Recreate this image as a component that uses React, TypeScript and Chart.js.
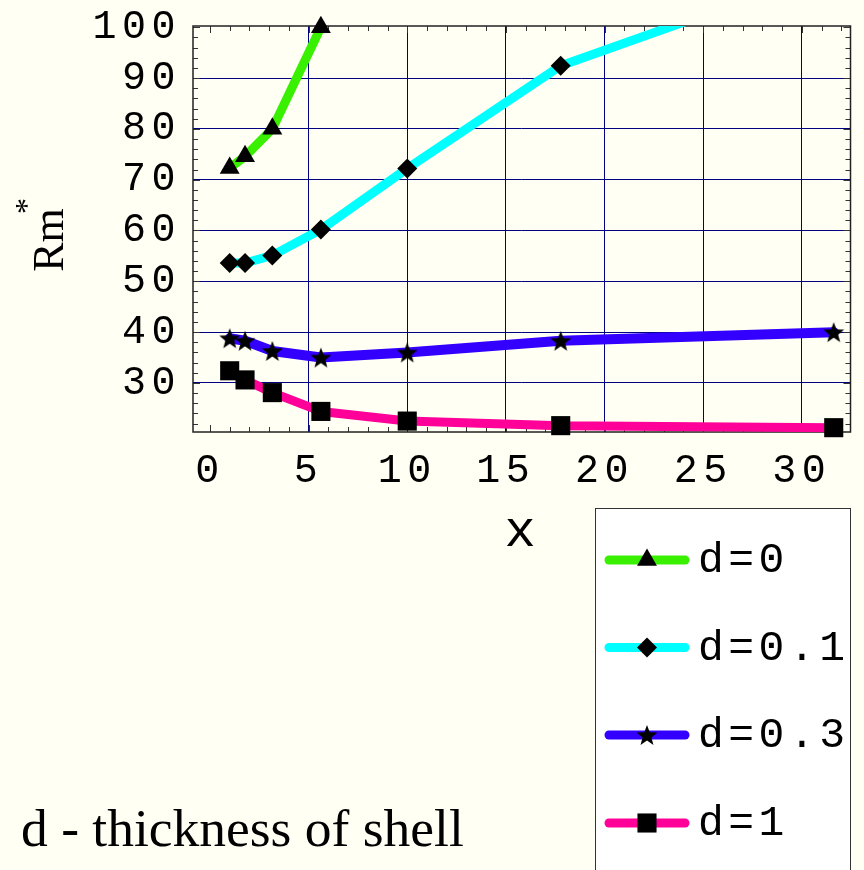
import React, { useEffect, useRef } from 'react';
import { Chart, registerables } from 'chart.js';
import { drawPoint } from 'chart.js/helpers';

Chart.register(...registerables);

// ---- data ----
const xValues = [1, 1.778, 3.162, 5.623, 10, 17.78, 31.62];
const rmD0 = [72.3, 74.6, 80.0, 100.0];
const rmD01 = [53.6, 53.6, 55.1, 60.2, 72.2, 92.4, 111.5];
const rmD03 = [38.8, 38.3, 36.3, 35.0, 36.0, 38.3, 40.0];
const rmD1 = [32.4, 30.6, 28.1, 24.4, 22.5, 21.6, 21.2];
const seriesLabels = ['d=0', 'd=0.1', 'd=0.3', 'd=1'];
const xTicks = [0, 5, 10, 15, 20, 25, 30];
const yTicks = [30, 40, 50, 60, 70, 80, 90, 100];

const CREAM = '#fffff4';
const NAVY = '#000080';
const GREEN = '#38f000';
const CYAN = '#00ffff';
const BLUE = '#3300ff';
const PINK = '#ff0099';

function makeStar(size: number): HTMLCanvasElement {
  const c = document.createElement('canvas');
  c.width = size;
  c.height = size;
  const g = c.getContext('2d')!;
  const cx = size / 2;
  const cy = size / 2 + 1;
  const R = size / 2;
  const r = R * 0.42;
  g.beginPath();
  for (let i = 0; i < 10; i++) {
    const a = -Math.PI / 2 + (i * Math.PI) / 5;
    const rr = i % 2 ? r : R;
    g.lineTo(cx + rr * Math.cos(a), cy + rr * Math.sin(a));
  }
  g.closePath();
  g.fillStyle = '#000';
  g.fill();
  return c;
}

const pts = (ys: number[]) => ys.map((y, i) => ({ x: xValues[i], y }));

const decorPlugin = {
  id: 'decor',
  beforeDraw(chart: any) {
    const { ctx, width, height } = chart;
    ctx.save();
    ctx.fillStyle = CREAM;
    ctx.fillRect(0, 0, width, height);
    ctx.restore();
    ctx.letterSpacing = '5.5px';
  },
  beforeDatasetsDraw(chart: any) {
    const { ctx, chartArea } = chart;
    ctx.letterSpacing = '0px';
    const xs = chart.scales.x;
    const ys = chart.scales.y;
    const { left, right, top, bottom } = chartArea;
    ctx.save();
    ctx.strokeStyle = '#333';
    ctx.lineWidth = 1;
    ctx.beginPath();
    for (let v = Math.ceil(xs.min); v <= Math.floor(xs.max); v++) {
      const p = Math.round(xs.getPixelForValue(v)) + 0.5;
      const len = v % 5 === 0 ? 7 : 5;
      ctx.moveTo(p, bottom);
      ctx.lineTo(p, bottom - len);
      ctx.moveTo(p, top);
      ctx.lineTo(p, top + len);
    }
    for (let v = Math.ceil(ys.min / 2) * 2; v <= ys.max; v += 2) {
      const p = Math.round(ys.getPixelForValue(v)) + 0.5;
      const len = v % 10 === 0 ? 7 : 5;
      ctx.moveTo(left, p);
      ctx.lineTo(left + len, p);
      ctx.moveTo(right, p);
      ctx.lineTo(right - len, p);
    }
    ctx.stroke();
    ctx.lineWidth = 1.5;
    ctx.strokeStyle = '#222';
    ctx.strokeRect(left, top, right - left, bottom - top);
    ctx.restore();
  },
  afterDraw(chart: any) {
    const { ctx } = chart;
    ctx.save();
    ctx.letterSpacing = '0px';
    ctx.fillStyle = '#000';

    // y axis title Rm*
    ctx.save();
    ctx.translate(63, 240);
    ctx.rotate(-Math.PI / 2);
    ctx.font = '44px "Liberation Serif"';
    ctx.textAlign = 'center';
    ctx.textBaseline = 'alphabetic';
    ctx.fillText('Rm', 0, 0);
    ctx.font = '32px "Liberation Serif"';
    ctx.fillText('*', 34, -26);
    ctx.restore();

    // x axis title
    ctx.font = '52px "Liberation Mono"';
    ctx.textAlign = 'center';
    ctx.textBaseline = 'alphabetic';
    ctx.fillText('x', 520, 546);

    // caption
    ctx.font = '53.5px "Liberation Serif"';
    ctx.textAlign = 'left';
    ctx.fillText('d - thickness of shell', 21, 846);

    // legend
    const bx = 595.5;
    const by = 508.5;
    ctx.fillStyle = '#ffffff';
    ctx.fillRect(bx, by, 255, 380);
    ctx.strokeStyle = '#333';
    ctx.lineWidth = 1;
    ctx.strokeRect(bx, by, 255, 380);
    const rowY = [560, 647.5, 735, 823];
    chart.data.datasets.forEach((ds: any, i: number) => {
      const cy = rowY[i];
      ctx.strokeStyle = ds.borderColor;
      ctx.lineWidth = 9;
      ctx.lineCap = 'round';
      ctx.beginPath();
      ctx.moveTo(609, cy);
      ctx.lineTo(685, cy);
      ctx.stroke();
      ctx.fillStyle = '#000';
      drawPoint(ctx, { pointStyle: ds.pointStyle, radius: ds.pointRadius, rotation: 0, borderWidth: 0 } as any, 647, cy);
      ctx.fillStyle = '#000';
      ctx.font = '43px "Liberation Mono"';
      ctx.letterSpacing = '4.5px';
      ctx.textAlign = 'left';
      ctx.textBaseline = 'alphabetic';
      ctx.fillText(ds.label, 698, cy + 12);
      ctx.letterSpacing = '0px';
    });
    ctx.restore();
  },
};

export default function App() {
  const ref = useRef<HTMLCanvasElement>(null);
  useEffect(() => {
    const star = makeStar(22);
    const tickFont = { family: 'Liberation Mono', size: 40 };
    const common = {
      borderWidth: 9,
      borderCapStyle: 'round',
      borderJoinStyle: 'round',
      pointBackgroundColor: '#000',
      pointBorderWidth: 0,
      pointHoverRadius: 0,
      tension: 0,
      fill: false,
    };
    const chart = new Chart(ref.current!, {
      type: 'line',
      data: {
        datasets: [
          { ...common, label: seriesLabels[0], data: pts(rmD0), borderColor: GREEN, pointStyle: 'triangle', pointRadius: 11.5, clip: false },
          { ...common, label: seriesLabels[1], data: pts(rmD01), borderColor: CYAN, pointStyle: 'rectRot', pointRadius: 10 },
          { ...common, label: seriesLabels[2], data: pts(rmD03), borderColor: BLUE, borderWidth: 10, pointStyle: star, pointRadius: 11, clip: false },
          { ...common, label: seriesLabels[3], data: pts(rmD1), borderColor: PINK, pointStyle: 'rect', pointRadius: 13.5, clip: false },
        ] as any,
      },
      options: {
        responsive: false,
        animation: false,
        events: [],
        layout: { padding: { top: 26, right: 11, bottom: 378, left: 0 } },
        plugins: { legend: { display: false }, tooltip: { enabled: false } },
        scales: {
          x: {
            type: 'linear',
            min: -0.86,
            max: 32.47,
            afterBuildTicks: (s: any) => {
              s.ticks = xTicks.map((v) => ({ value: v }));
            },
            afterFit: (s: any) => {
              s.height = 60;
              s.paddingLeft = 0;
              s.paddingRight = 0;
            },
            ticks: { font: tickFont, color: '#000', padding: 15, maxRotation: 0, autoSkip: false, callback: (v: any) => String(v) },
            grid: {
              color: (c: any) => (c.tick && c.tick.value === 0 ? 'rgba(0,0,0,0)' : NAVY),
              lineWidth: 1,
              drawTicks: false,
            },
            border: { display: false },
          },
          y: {
            type: 'linear',
            min: 20.35,
            max: 100.24,
            afterBuildTicks: (s: any) => {
              s.ticks = yTicks.map((v) => ({ value: v }));
            },
            afterFit: (s: any) => {
              s.width = 193;
              s.paddingTop = 0;
              s.paddingBottom = 0;
            },
            ticks: { font: tickFont, color: '#000', padding: 12, autoSkip: false, callback: (v: any) => String(v) },
            grid: {
              color: (c: any) => (c.tick && c.tick.value === 100 ? 'rgba(0,0,0,0)' : NAVY),
              lineWidth: 1,
              drawTicks: false,
            },
            border: { display: false },
          },
        },
      } as any,
      plugins: [decorPlugin],
    });
    return () => chart.destroy();
  }, []);
  return (
    <div style={{ position: 'absolute', left: 0, top: 0, width: 864, height: 870, background: CREAM, overflow: 'hidden' }}>
      <canvas ref={ref} width={864} height={870} style={{ display: 'block' }} />
    </div>
  );
}
